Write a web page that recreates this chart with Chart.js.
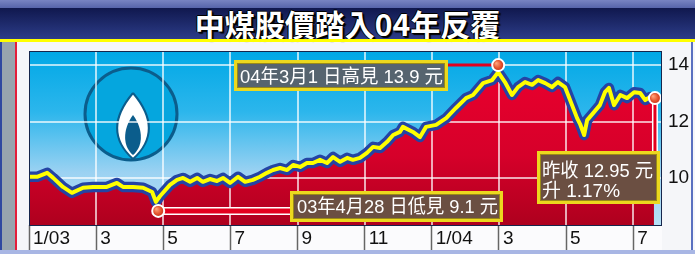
<!DOCTYPE html>
<html>
<head>
<meta charset="utf-8">
<script src="https://cdn.jsdelivr.net/npm/chart.js@4.4.0/dist/chart.umd.min.js"></script>
<style>
  html, body { margin: 0; padding: 0; width: 695px; height: 254px; overflow: hidden; background: #f5f6f9; }
  #wrap { position: relative; width: 695px; height: 254px; }
  .abs { position: absolute; }
  #topband { left: 0; top: 0; width: 695px; height: 8px; background: linear-gradient(#7884c2, #5664aa); }
  #title { left: 0; top: 8px; width: 695px; height: 31px; background: linear-gradient(#10184e, #2c3c88);
           color: #fff; font: bold 30px "Noto Sans CJK TC", sans-serif; text-align: center; line-height: 31px;
           text-shadow: 1px 1px 0 #000, -1px 0 0 #000, 0 -1px 0 #000, 2px 2px 1px #000; }
  #yline { left: 0; top: 39px; width: 695px; height: 3px; background: #ffff00; }
  #lblue { left: 0; top: 42px; width: 2px; height: 212px; background: #3048a0; }
  #lgrey { left: 2px; top: 42px; width: 13px; height: 212px; background: #98a4ae; }
  #lred { left: 15px; top: 42px; width: 2px; height: 212px; background: #e41e3a; }
  #rblue { left: 691px; top: 42px; width: 2px; height: 212px; background: #5a70c0; }
  #bline { left: 0; top: 250px; width: 695px; height: 4px; background: #a8b6e4; }
  canvas { position: absolute; left: 0; top: 0; }
</style>
</head>
<body>
<div id="wrap">
  <div class="abs" id="topband"></div>
  <div class="abs" id="title">中煤股價踏入04年反覆</div>
  <div class="abs" id="yline"></div>
  <div class="abs" id="lblue"></div>
  <div class="abs" id="lgrey"></div>
  <div class="abs" id="lred"></div>
  <div class="abs" id="rblue"></div>
  <div class="abs" id="bline"></div>
  <canvas id="chart" width="695" height="254"></canvas>
</div>
<script>
// months counted from 1 Jan 2003
const tickMonths = [0, 2, 4, 6, 8, 10, 12, 14, 16, 18];
const tickLabels = ['1/03', '3', '5', '7', '9', '11', '1/04', '3', '5', '7'];
const priceTicks = [10, 12, 14];

// closing price (HK$)
const months = [0, 0.24, 0.54, 0.72, 1.01, 1.28, 1.61, 1.91, 2.32, 2.62, 2.80, 3.10, 3.40, 3.67, 3.78, 3.90,
  4.20, 4.41, 4.59, 4.80, 5.01, 5.18, 5.39, 5.60, 5.78, 5.99, 6.23, 6.44, 6.67, 6.88, 7.09, 7.27, 7.48,
  7.69, 7.87, 8.08, 8.28, 8.46, 8.67, 8.88, 9.06, 9.27, 9.48, 9.65, 9.86, 10.07, 10.25, 10.46, 10.67,
  10.85, 11.05, 11.14, 11.44, 11.65, 11.83, 12.13, 12.43, 12.72, 13.02, 13.23,
  13.53, 13.80, 13.98, 14.18, 14.39, 14.57, 14.78, 14.99, 15.17, 15.38, 15.58, 15.76, 15.97, 16.18, 16.33,
  16.42, 16.54, 16.63, 16.84, 17.01, 17.16, 17.28, 17.43, 17.62, 17.82, 18.03, 18.21, 18.36, 18.51, 18.62];
const prices = [10.04, 10.04, 10.18, 10.00, 9.68, 9.47, 9.65, 9.68, 9.68, 9.82, 9.68, 9.68, 9.65, 9.50, 9.15, 9.35,
  9.75, 9.93, 10.00, 9.86, 10.00, 9.86, 9.96, 9.89, 10.00, 9.82, 10.04, 9.86, 9.93, 10.04, 10.18, 10.28, 10.35,
  10.28, 10.46, 10.39, 10.53, 10.53, 10.64, 10.53, 10.74, 10.57, 10.71, 10.64, 10.71, 10.89, 11.10, 11.06, 11.28,
  11.52, 11.63, 11.81, 11.63, 11.45, 11.81, 11.88, 12.12, 12.48, 12.83, 12.94,
  13.36, 13.47, 13.75, 13.40, 12.94, 13.22, 13.40, 13.30, 13.47, 13.36, 13.22, 13.40, 13.22,
  12.58, 12.12, 11.91, 11.52, 12.05, 12.34, 12.58, 13.04, 13.19, 12.58, 12.94, 12.83, 13.04, 13.01, 12.76,
  12.87, 12.83];

// highlighted points: low, high, last close
const markMonths = [3.85, 13.98, 18.65];
const markPrices = [8.83, 14.0, 12.83];
const notes = [
  ['03年4月28 日低見 9.1 元'],
  ['04年3月1 日高見 13.9 元'],
  ['昨收 12.95 元', '升 1.17%']
];

const pts = months.map((m, i) => ({ x: m, y: prices[i] }));
const marks = markMonths.map((m, i) => ({ x: m, y: markPrices[i] }));

function drawLogo(ctx, cx, cy) {
  ctx.save();
  ctx.beginPath();
  ctx.arc(cx, cy, 46, 0, Math.PI * 2);
  ctx.fillStyle = '#05a6de';
  ctx.fill();
  ctx.lineWidth = 3;
  ctx.strokeStyle = '#0b5d8c';
  ctx.stroke();
  // flame
  const top = cy - 21, bot = cy + 45;
  ctx.beginPath();
  ctx.moveTo(cx + 2, top);
  ctx.bezierCurveTo(cx + 24, top + 26, cx + 22, bot - 18, cx + 2, bot);
  ctx.bezierCurveTo(cx - 18, bot - 18, cx - 20, top + 26, cx + 2, top);
  ctx.fillStyle = '#fff';
  ctx.fill();
  ctx.lineWidth = 2;
  ctx.stroke();
  ctx.beginPath();
  ctx.moveTo(cx + 2, cy + 1);
  ctx.bezierCurveTo(cx + 13, cy + 16, cx + 12, bot - 12, cx + 2, bot - 4);
  ctx.bezierCurveTo(cx - 8, bot - 12, cx - 9, cy + 16, cx + 2, cy + 1);
  ctx.fillStyle = '#0b5d8c';
  ctx.fill();
  ctx.restore();
}

function drawNote(ctx, x, y, w, h, fill, lines, tx, baseline, tw) {
  ctx.save();
  ctx.fillStyle = fill;
  ctx.fillRect(x, y, w, h);
  ctx.lineWidth = 3;
  ctx.strokeStyle = '#ecd81e';
  ctx.strokeRect(x + 1.5, y + 1.5, w - 3, h - 3);
  ctx.lineWidth = 1;
  ctx.strokeStyle = '#9a8a18';
  ctx.strokeRect(x + 3.5, y + 3.5, w - 7, h - 7);
  ctx.fillStyle = '#fff';
  ctx.font = '19px "Liberation Sans", "Noto Sans CJK TC", sans-serif';
  ctx.textBaseline = 'alphabetic';
  lines.forEach((s, i) => ctx.fillText(s, tx, baseline + i * 20, tw[i]));
  ctx.restore();
}

function connector(ctx, x1, y1, x2, y2, outer, inner) {
  ctx.save();
  ctx.lineCap = 'butt';
  if (outer) {
    ctx.strokeStyle = '#fff';
    ctx.lineWidth = outer;
    ctx.beginPath(); ctx.moveTo(x1, y1); ctx.lineTo(x2, y2); ctx.stroke();
  }
  ctx.strokeStyle = '#e4001e';
  ctx.lineWidth = inner;
  ctx.beginPath(); ctx.moveTo(x1, y1); ctx.lineTo(x2, y2); ctx.stroke();
  ctx.restore();
}

const decor = {
  id: 'decor',
  beforeDraw(chart) {
    const { ctx, chartArea: a } = chart;
    ctx.save();
    ctx.fillStyle = '#fbfbfd';
    ctx.fillRect(a.left, a.bottom, a.width, 25);
    const g = ctx.createLinearGradient(0, a.top, 0, a.bottom);
    g.addColorStop(0, '#00a8e6');
    g.addColorStop(0.35, '#2cb6ec');
    g.addColorStop(0.7, '#9cd2f2');
    g.addColorStop(1, '#b6e0f6');
    ctx.fillStyle = g;
    ctx.fillRect(a.left, a.top, a.width, a.height);
    ctx.restore();
    drawLogo(ctx, a.left + 102, a.top + 63);
  },
  beforeDatasetDraw(chart, args) {
    const { ctx, chartArea: a, scales: { x, y } } = chart;
    if (args.index === 1) {
      // grid sits on top of the red area but under the price line
      ctx.save();
      ctx.strokeStyle = 'rgba(255,255,255,0.9)';
      ctx.lineWidth = 1.5;
      tickMonths.forEach(m => {
        const px = Math.round(x.getPixelForValue(m));
        if (px <= a.left + 1) return;
        ctx.beginPath(); ctx.moveTo(px, a.top); ctx.lineTo(px, a.bottom); ctx.stroke();
      });
      priceTicks.forEach(v => {
        const py = Math.round(y.getPixelForValue(v));
        ctx.beginPath(); ctx.moveTo(a.left, py); ctx.lineTo(a.right, py); ctx.stroke();
      });
      ctx.restore();
    }
    if (args.index === 3) {
      const p = chart.getDatasetMeta(3).data;
      connector(ctx, p[0].x, p[0].y, 290, p[0].y, 8, 5);
      connector(ctx, p[1].x, p[1].y, 446, p[1].y, 0, 3);
      connector(ctx, p[2].x, p[2].y, p[2].x, 152, 6, 3);
    }
  },
  afterDatasetsDraw(chart) {
    const { ctx, chartArea: a } = chart;
    ctx.save();
    ctx.strokeStyle = '#16264c';
    ctx.lineWidth = 1;
    ctx.strokeRect(a.left + 0.5, a.top + 0.5, a.width - 1, a.height);
    ctx.restore();
    drawNote(ctx, 234, 60, 214, 31, '#56646f', notes[1], 240, 83, [203]);
    drawNote(ctx, 290, 191, 213, 31, '#6b4f42', notes[0], 297, 213, [201]);
    drawNote(ctx, 537, 151, 123, 53, '#6b4f42', notes[2], 542, 177, [111, 78]);
  }
};

new Chart(document.getElementById('chart'), {
  type: 'line',
  data: {
    datasets: [
      { data: pts, borderWidth: 0, pointRadius: 0, fill: 'start', order: 4,
        backgroundColor: c => {
          const a = c.chart.chartArea;
          if (!a) return '#d8002a';
          const g = c.chart.ctx.createLinearGradient(0, a.top, 0, a.bottom);
          g.addColorStop(0, '#ee002e');
          g.addColorStop(0.6, '#d6002a');
          g.addColorStop(1, '#ae001e');
          return g;
        } },
      { data: pts, borderColor: '#2444a4', borderWidth: 10.5, pointRadius: 0, fill: false, tension: 0,
        borderJoinStyle: 'round', borderCapStyle: 'round', order: 3 },
      { data: pts, borderColor: '#ffff00', borderWidth: 4, pointRadius: 0, fill: false, tension: 0,
        borderJoinStyle: 'round', borderCapStyle: 'round', order: 2 },
      { data: marks, showLine: false, pointRadius: 6, pointBorderWidth: 2, pointBorderColor: '#fff', order: 1,
        pointBackgroundColor: c => {
          const { x, y } = c.chart.scales;
          if (!c.parsed || !x || !y) return '#dc4a2c';
          const px = x.getPixelForValue(c.parsed.x), py = y.getPixelForValue(c.parsed.y);
          if (!isFinite(px) || !isFinite(py)) return '#dc4a2c';
          const g = c.chart.ctx.createRadialGradient(px - 2, py - 2, 0.5, px, py, 6);
          g.addColorStop(0, '#ffa078');
          g.addColorStop(0.6, '#e4542e');
          g.addColorStop(1, '#c2301a');
          return g;
        } }
    ]
  },
  options: {
    responsive: false,
    animation: false,
    devicePixelRatio: 1,
    layout: { padding: { left: 29, top: 51, right: 0, bottom: 4 } },
    plugins: { legend: { display: false }, tooltip: { enabled: false } },
    scales: {
      x: {
        type: 'linear', min: 0, max: 18.86,
        afterBuildTicks: s => { s.ticks = tickMonths.map(v => ({ value: v })); },
        afterFit: s => { s.height = 25; },
        border: { display: false },
        grid: { drawOnChartArea: false, drawTicks: true, tickLength: 25, tickColor: '#666', tickWidth: 1.5 },
        ticks: {
          autoSkip: false, maxRotation: 0, align: 'start', labelOffset: 4, padding: -23,
          color: '#111', font: { family: 'Liberation Sans', size: 19 },
          callback: v => tickLabels[tickMonths.indexOf(v)]
        }
      },
      y: {
        position: 'right', min: 8.33, max: 14.5,
        afterBuildTicks: s => { s.ticks = priceTicks.map(v => ({ value: v })); },
        afterFit: s => { s.width = 33; },
        border: { display: false },
        grid: { drawOnChartArea: false, drawTicks: false },
        ticks: { padding: 6, color: '#111', font: { family: 'Liberation Sans', size: 19 } }
      }
    }
  },
  plugins: [decor]
});
</script>
</body>
</html>
